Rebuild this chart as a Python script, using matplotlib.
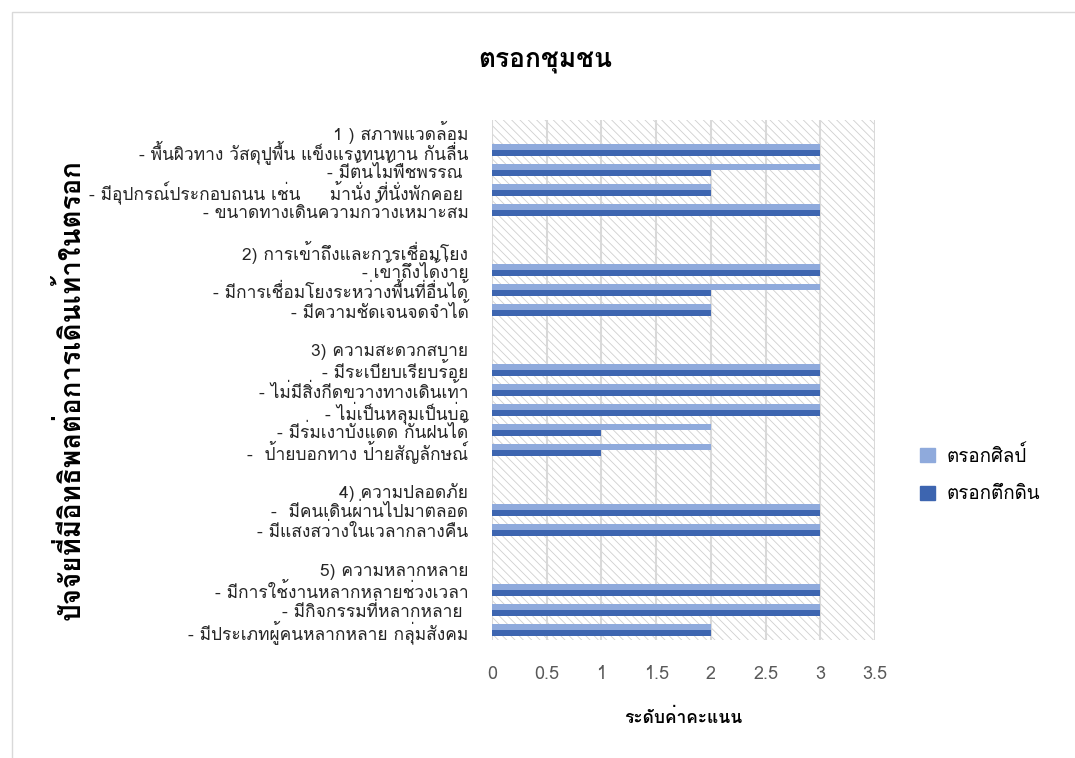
import numpy as np
import matplotlib
matplotlib.use("Agg")
import matplotlib.pyplot as plt
from matplotlib import font_manager
from matplotlib.ft2font import FT2Font
from matplotlib.patches import Rectangle, Patch

# categories top to bottom; group headers and blank spacer rows carry no bars
labels = [
    "1 ) สภาพแวดล้อม",
    "- พื้นผิวทาง วัสดุปูพื้น แข็งแรงทนทาน กันลื่น",
    "- มีต้นไม้พืชพรรณ ",
    "- มีอุปกรณ์ประกอบถนน เช่น     ม้านั่ง ที่นั่งพักคอย ",
    "- ขนาดทางเดินความกว้างเหมาะสม",
    "",
    "2) การเข้าถึงและการเชื่อมโยง",
    "- เข้าถึงได้ง่าย",
    "- มีการเชื่อมโยงระหว่างพื้นที่อื่นได้",
    "- มีความชัดเจนจดจำได้",
    "",
    "3) ความสะดวกสบาย",
    "- มีระเบียบเรียบร้อย",
    "- ไม่มีสิ่งกีดขวางทางเดินเท้า",
    "- ไม่เป็นหลุมเป็นบ่อ",
    "- มีร่มเงาบังแดด กันฝนได้",
    "-  ป้ายบอกทาง ป้ายสัญลักษณ์",
    "",
    "4) ความปลอดภัย",
    "-  มีคนเดินผ่านไปมาตลอด",
    "- มีแสงสว่างในเวลากลางคืน",
    "",
    "5) ความหลากหลาย",
    "- มีการใช้งานหลากหลายช่วงเวลา",
    "- มีกิจกรรมที่หลากหลาย ",
    "- มีประเภทผู้คนหลากหลาย กลุ่มสังคม",
]
silp = [0, 3, 3, 2, 3, 0, 0, 3, 3, 2, 0, 0, 3, 3, 3, 2, 2, 0, 0, 3, 3, 0, 0, 3, 3, 2]
tuekdin = [0, 3, 2, 2, 3, 0, 0, 3, 2, 2, 0, 0, 3, 3, 3, 1, 1, 0, 0, 3, 3, 0, 0, 3, 3, 2]
series_names = ["ตรอกศิลป์", "ตรอกตึกดิน"]
xticks = [0, 0.5, 1, 1.5, 2, 2.5, 3, 3.5]


def thai_font():
    """Return the name of an installed font that has Thai glyphs."""
    for f in font_manager.fontManager.ttflist:
        try:
            if 0x0E01 in FT2Font(f.fname).get_charmap():
                return f.name
        except Exception:
            pass
    return "DejaVu Sans"


plt.rcParams["font.family"] = [thai_font(), "DejaVu Sans"]
plt.rcParams["hatch.color"] = "#CFCFCF"
plt.rcParams["hatch.linewidth"] = 0.6

light = "#8FAADC"
dark = "#3D65B0"

fig = plt.figure(figsize=(10.75, 7.58), dpi=100)
ax = fig.add_axes([492 / 1075, 1 - 640 / 758, 383 / 1075, 520 / 758])

# frame line around the chart area
fig.patches.append(Rectangle((12 / 1075, -0.1), 1.2, 1 - 12 / 758 + 0.1,
                             transform=fig.transFigure, fill=False,
                             edgecolor="#D9D9D9", linewidth=1.0))

y = np.arange(len(labels))
h = 0.285
ax.add_patch(Rectangle((0, -0.5), 3.5, len(labels), facecolor="white",
                       hatch="\\\\\\\\", edgecolor="#CFCFCF", linewidth=0, zorder=0))
ax.barh(y - h / 2, silp, height=h, color=light, zorder=3, label=series_names[0])
ax.barh(y + h / 2, tuekdin, height=h, color=dark, zorder=3, label=series_names[1])

ax.set_xlim(0, 3.5)
ax.set_ylim(len(labels) - 0.5, -0.5)
ax.set_xticks(xticks)
ax.set_xticklabels([f"{t:g}" for t in xticks], color="#595959", fontsize=13)
ax.set_yticks(y)
ax.set_yticklabels(labels, fontsize=12.5, color="#262626")
ax.tick_params(length=0)
ax.tick_params(axis="x", pad=18)
ax.tick_params(axis="y", pad=17)
ax.grid(axis="x", color="#D9D9D9", linewidth=1.5, zorder=1)
for s in ax.spines.values():
    s.set_visible(False)

ax.set_xlabel("ระดับค่าคะแนน", fontsize=12.5, fontweight="bold", labelpad=18)
fig.text(545 / 1075, 1 - 62 / 758, "ตรอกชุมชน", fontsize=19, fontweight="bold",
         ha="center", va="center")
fig.text(70 / 1075, 1 - 390 / 758, "ปัจจัยที่มีอิทธิพลต่อการเดินเท้าในตรอก",
         fontsize=20, fontweight="bold", rotation=90, ha="center", va="center")

handles = [Patch(color=light), Patch(color=dark)]
fig.legend(handles, series_names, loc="center left",
           bbox_to_anchor=(903 / 1075, 1 - 474 / 758), frameon=False,
           fontsize=13.5, handlelength=0.8, handleheight=0.8,
           labelspacing=1.05, handletextpad=0.6)

fig.savefig("out.png", dpi=100)
